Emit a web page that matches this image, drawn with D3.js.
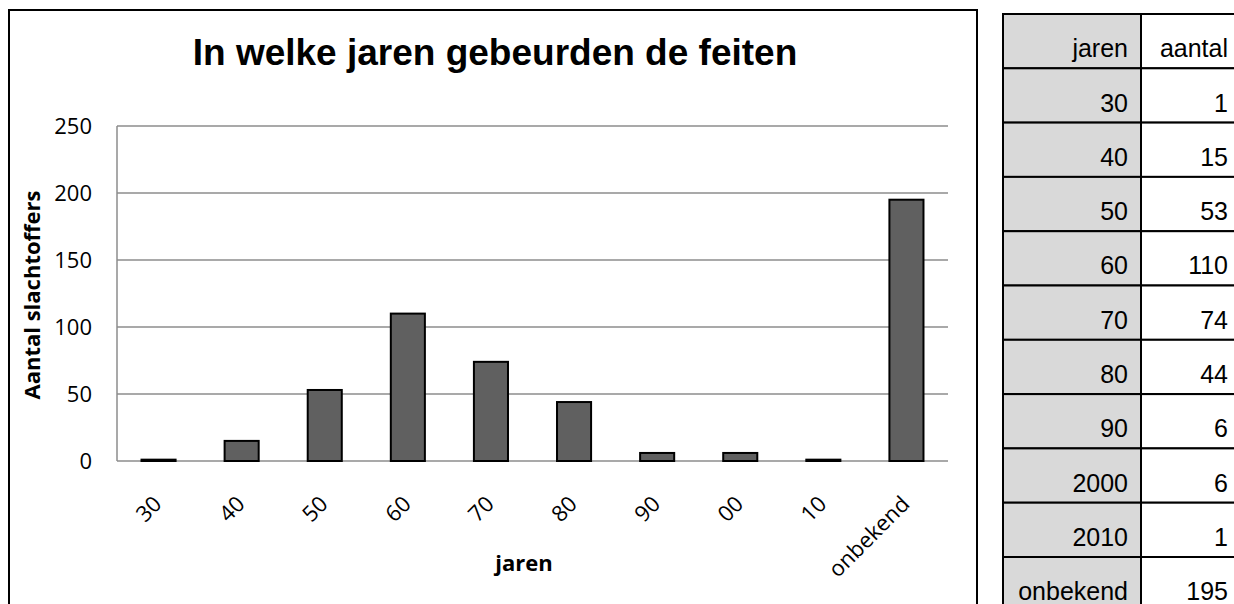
<!DOCTYPE html>
<html>
<head>
<meta charset="utf-8">
<script src="https://cdn.jsdelivr.net/npm/d3@7"></script>
<style>
  body { margin: 0; background: #fff; }
  svg { display: block; }
</style>
</head>
<body>
<div id="chart"></div>
<script>
var w = 1234;
var h = 604;

// data
var categories = ["30", "40", "50", "60", "70", "80", "90", "00", "10", "onbekend"];
var tableLabels = ["30", "40", "50", "60", "70", "80", "90", "2000", "2010", "onbekend"];
var values = [1, 15, 53, 110, 74, 44, 6, 6, 1, 195];
var yTicks = [0, 50, 100, 150, 200, 250];

var labelFont = "'Open Sans', sans-serif";
var arial = "Arial, 'Liberation Sans', sans-serif";

var svg = d3.select("#chart")
            .append("svg")
            .attr("width", w)
            .attr("height", h);

// chart frame
svg.append("rect")
   .attr("x", 9).attr("y", 10)
   .attr("width", 968).attr("height", 620)
   .style("fill", "none")
   .style("stroke", "#000")
   .style("stroke-width", 2);

var plot = { left: 117, right: 948, top: 126, bottom: 461 };

var x = d3.scaleBand()
          .domain(categories)
          .range([plot.left, plot.right])
          .paddingInner(0.59)
          .paddingOuter(0.295);

var y = d3.scaleLinear()
          .domain([0, 250])
          .range([plot.bottom, plot.top]);

// gridlines
svg.append("g")
   .selectAll("line")
   .data(yTicks)
   .enter()
   .append("line")
   .attr("x1", plot.left)
   .attr("x2", plot.right)
   .attr("y1", function(d) { return y(d); })
   .attr("y2", function(d) { return y(d); })
   .style("stroke", "#8c8c8c")
   .style("stroke-width", 1.5);

// y axis line
svg.append("line")
   .attr("x1", plot.left).attr("x2", plot.left)
   .attr("y1", plot.top).attr("y2", plot.bottom)
   .style("stroke", "#8c8c8c")
   .style("stroke-width", 1.5);

// y tick labels
svg.append("g")
   .selectAll("text")
   .data(yTicks)
   .enter()
   .append("text")
   .attr("x", 92)
   .attr("y", function(d) { return y(d); })
   .attr("dy", "0.36em")
   .attr("text-anchor", "end")
   .style("font-family", labelFont)
   .style("font-size", "22px")
   .text(function(d) { return d; });

// bars
svg.append("g")
   .selectAll("rect")
   .data(values)
   .enter()
   .append("rect")
   .attr("x", function(d, i) { return x(categories[i]); })
   .attr("width", x.bandwidth())
   .attr("y", function(d) { return y(d); })
   .attr("height", function(d) { return y(0) - y(d); })
   .style("fill", "#606060")
   .style("stroke", "#000")
   .style("stroke-width", 2);

// x tick labels, rotated
svg.append("g")
   .selectAll("text")
   .data(categories)
   .enter()
   .append("text")
   .attr("transform", function(d) {
       var cx = x(d) + x.bandwidth() / 2;
       return "translate(" + (cx - 1) + "," + 500 + ") rotate(-45)";
   })
   .attr("text-anchor", "end")
   .attr("dy", "0.35em")
   .style("font-family", labelFont)
   .style("font-size", "22px")
   .text(function(d) { return d; });

// title
svg.append("text")
   .attr("x", 495)
   .attr("y", 65)
   .attr("text-anchor", "middle")
   .style("font-family", arial)
   .style("font-weight", "bold")
   .style("font-size", "37px")
   .text("In welke jaren gebeurden de feiten");

// axis titles
svg.append("text")
   .attr("x", 524)
   .attr("y", 571)
   .attr("text-anchor", "middle")
   .style("font-family", labelFont)
   .style("font-weight", "bold")
   .style("font-size", "22px")
   .text("jaren");

svg.append("text")
   .attr("transform", "translate(40,295) rotate(-90)")
   .attr("text-anchor", "middle")
   .style("font-family", labelFont)
   .style("font-weight", "bold")
   .style("font-size", "22px")
   .text("Aantal slachtoffers");

// table on the right
var table = { left: 1003, mid: 1141, right: 1241, top: 14, rowH: 54.3 };
var rows = [["jaren", "aantal"]].concat(tableLabels.map(function(d, i) { return [d, values[i]]; }));

var rowG = svg.append("g")
              .selectAll("g")
              .data(rows)
              .enter()
              .append("g")
              .attr("transform", function(d, i) { return "translate(0," + (table.top + i * table.rowH) + ")"; });

rowG.append("rect")
    .attr("x", table.left)
    .attr("width", table.mid - table.left)
    .attr("height", table.rowH)
    .style("fill", "#d9d9d9")
    .style("stroke", "#000")
    .style("stroke-width", 2);

rowG.append("rect")
    .attr("x", table.mid)
    .attr("width", table.right - table.mid)
    .attr("height", table.rowH)
    .style("fill", "#fff")
    .style("stroke", "#000")
    .style("stroke-width", 2);

rowG.append("text")
    .attr("x", table.mid - 13)
    .attr("y", table.rowH - 11)
    .attr("text-anchor", "end")
    .style("font-family", arial)
    .style("font-size", "25px")
    .text(function(d) { return d[0]; });

rowG.append("text")
    .attr("x", table.right - 13)
    .attr("y", table.rowH - 11)
    .attr("text-anchor", "end")
    .style("font-family", arial)
    .style("font-size", "25px")
    .text(function(d) { return d[1]; });
</script>
</body>
</html>
